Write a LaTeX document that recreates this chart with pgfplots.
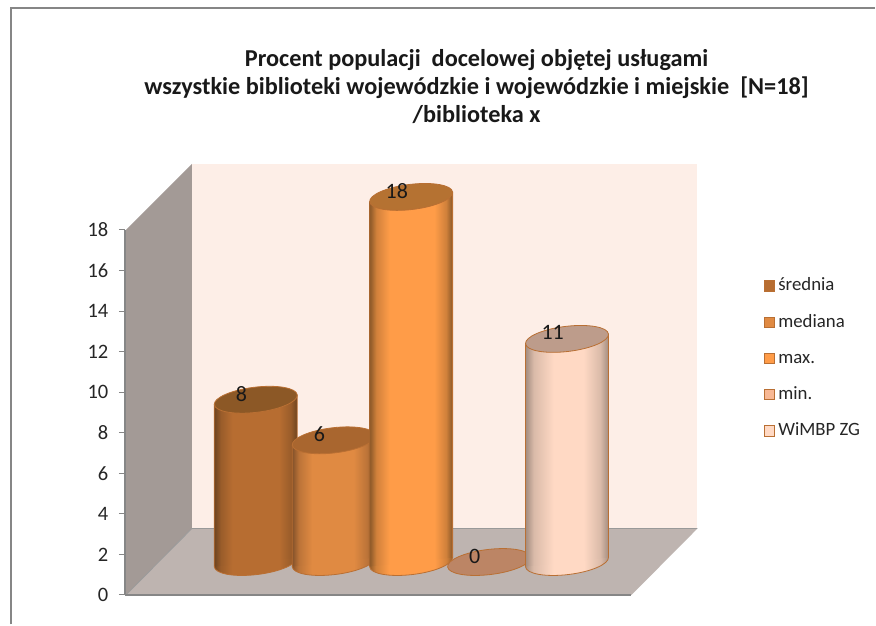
\documentclass[border=0pt]{standalone}
\usepackage{pgfplots}
\usepackage{fontspec}
\setmainfont{Carlito}
\pgfplotsset{compat=1.18}
\definecolor{frameC}{HTML}{868686}
\definecolor{wallB}{HTML}{FDEEE7}
\definecolor{wallL}{HTML}{A39A96}
\definecolor{floorC}{HTML}{BEB4B0}
\definecolor{edgeC}{HTML}{B96F33}
\definecolor{legMin}{HTML}{F8B894}
\definecolor{capA}{HTML}{8C5826}
\definecolor{capB}{HTML}{A9662F}
\definecolor{capC}{HTML}{B57232}
\definecolor{capD}{HTML}{BC8565}
\definecolor{capE}{HTML}{BD9C8B}
\definecolor{aD}{HTML}{6E4420}\definecolor{aM}{HTML}{B76D31}
\definecolor{bD}{HTML}{85522A}\definecolor{bM}{HTML}{E08A42}
\definecolor{cD}{HTML}{8A5828}\definecolor{cM}{HTML}{FF9C48}
\definecolor{eD}{HTML}{A38D80}\definecolor{eM}{HTML}{FFD9C4}
\colorlet{aX}{aM!60!aD}\colorlet{bX}{bM!60!bD}\colorlet{cX}{cM!60!cD}\colorlet{eX}{eM!60!eD}
\pgfdeclarehorizontalshading{cylA}{100bp}{color(0bp)=(aD);color(25bp)=(aD);color(29bp)=(aX);color(36bp)=(aM);color(64bp)=(aM);color(71bp)=(aX);color(75bp)=(aD);color(100bp)=(aD)}
\pgfdeclarehorizontalshading{cylB}{100bp}{color(0bp)=(bD);color(25bp)=(bD);color(29bp)=(bX);color(37bp)=(bM);color(62bp)=(bM);color(70bp)=(bX);color(75bp)=(bD);color(100bp)=(bD)}
\pgfdeclarehorizontalshading{cylC}{100bp}{color(0bp)=(cD);color(25bp)=(cD);color(29bp)=(cX);color(37bp)=(cM);color(64bp)=(cM);color(71bp)=(cX);color(75bp)=(cD);color(100bp)=(cD)}
\pgfdeclarehorizontalshading{cylE}{100bp}{color(0bp)=(eD);color(25bp)=(eD);color(30bp)=(eX);color(42bp)=(eM);color(60bp)=(eM);color(70bp)=(eX);color(75bp)=(eD);color(100bp)=(eD)}
\pgfdeclareplotmark{cylcap}{%
  \pgfpathellipse{\pgfpointorigin}{\pgfqpoint{41.5pt}{4.95pt}}{\pgfqpoint{-1.49pt}{12.51pt}}%
  \pgfusepathqfillstroke}
\newcommand\basemark[1]{\pgfdeclareplotmark{base#1}{%
  \pgfpathellipse{\pgfpointorigin}{\pgfqpoint{41.5pt}{4.95pt}}{\pgfqpoint{-1.49pt}{12.51pt}}%
  \pgfshadepath{cyl#1}{0}\pgfusepathqstroke}}
\basemark{A}\basemark{B}\basemark{C}\basemark{E}
\begin{document}
\begin{tikzpicture}
\begin{axis}[
  name=main, at={(0,0)}, anchor=south west,
  scale only axis, width=505pt, height=365.4pt,
  xmin=125, xmax=630, ymin=0, ymax=18,
  clip=false, axis on top,
  axis x line*=bottom, axis y line*=left,
  axis line style={frameC, line width=1.3pt, -},
  xtick=\empty,
  ytick={0,2,...,18},
  tick align=outside, major tick length=6pt,
  tick style={frameC, line width=1pt},
  /pgf/number format/assume math mode=true,
  tick label style={font=\fontsize{20.5}{22}\selectfont, text=black!85},
  yticklabel style={xshift=-7pt},
  title={Procent populacji~ docelowej objętej usługami\\wszystkie biblioteki wojewódzkie i wojewódzkie i miejskie~ [N=18]\\/biblioteka x},
  title style={at={(0.697,1.376)}, anchor=center, align=center, font=\fontsize{24.3}{28}\selectfont\bfseries, text=black!90},
  legend style={at={(1.2664,0.863)}, anchor=north west, draw=none, fill=none,
    font=\fontsize{18.8}{21}\selectfont, text=black!85, inner sep=0pt, outer sep=0pt,
    nodes={inner sep=0pt, text height=11pt, text depth=3pt}, row sep=22.2pt,
    /tikz/every odd column/.append style={column sep=3pt}},
  legend cell align=left,
]
% page and chart frame
\addplot[forget plot, fill=white, draw=none] coordinates {(0,-1.453)(0,29.335)(876,29.335)(876,-1.453)} -- cycle;
\addplot[forget plot, frameC, line width=1.5pt] coordinates {(11,-1.453)(11,28.94)(876,28.94)};
% walls and floor
\addplot[forget plot, fill=wallB, draw=none] coordinates {(192,3.276)(192,21.25)(698,21.25)(698,3.276)} -- cycle;
\addplot[forget plot, fill=wallL, draw=none] coordinates {(126,0)(126,18)(192,21.25)(192,3.276)} -- cycle;
\addplot[forget plot, fill=floorC, draw=none] coordinates {(126,0)(192,3.276)(698,3.276)(632,0)} -- cycle;
\addplot[forget plot, black!40, line width=0.8pt] coordinates {(126,0)(192,3.276)(698,3.276)};
\addplot[forget plot, frameC, line width=1.3pt] coordinates {(125,0)(632,0)};
% legend
\addlegendimage{legend image code/.code={\draw[fill=aM,draw=edgeC,line width=1pt] (0pt,-4.5pt) rectangle (10.5pt,6pt);}}
\addlegendentry{średnia}
\addlegendimage{legend image code/.code={\draw[fill=bM,draw=edgeC,line width=1pt] (0pt,-4.5pt) rectangle (10.5pt,6pt);}}
\addlegendentry{mediana}
\addlegendimage{legend image code/.code={\draw[fill=cM,draw=edgeC,line width=1pt] (0pt,-4.5pt) rectangle (10.5pt,6pt);}}
\addlegendentry{max.}
\addlegendimage{legend image code/.code={\draw[fill=legMin,draw=edgeC,line width=1pt] (0pt,-4.5pt) rectangle (10.5pt,6pt);}}
\addlegendentry{min.}
\addlegendimage{legend image code/.code={\draw[fill=eM,draw=edgeC,line width=1pt] (0pt,-4.5pt) rectangle (10.5pt,6pt);}}
\addlegendentry{WiMBP ZG}
\end{axis}
\begin{axis}[
  at={(0,0)}, anchor=south west,
  scale only axis, width=505pt, height=365.4pt,
  xmin=125, xmax=630, ymin=-1.626, ymax=16.374,
  clip=false, clip mode=individual, hide axis,
  /pgf/number format/assume math mode=true,
  every node near coord/.append style={anchor=center, xshift=-14.3pt, yshift=6pt, font=\fontsize{22}{24}\selectfont, text=black!90},
  nodes near coords,
  point meta=y,
]
% średnia = 8
\addplot[only marks, mark=baseA, nodes near coords=\empty, mark options={draw=edgeC, line width=0.8pt}] coordinates {(256,0)};
\addplot[shade, shading=cylA, draw=edgeC, line width=0.8pt, nodes near coords=\empty] coordinates {(214.5,-0.222)(214.5,7.778)(297.5,8.222)(297.5,0.222)};
\addplot[only marks, mark=cylcap, mark options={fill=capA, draw=edgeC, line width=0.8pt}] coordinates {(256,8)};
% mediana = 6
\addplot[only marks, mark=baseB, nodes near coords=\empty, mark options={draw=edgeC, line width=0.8pt}] coordinates {(334,0)};
\addplot[shade, shading=cylB, draw=edgeC, line width=0.8pt, nodes near coords=\empty] coordinates {(292.5,-0.222)(292.5,5.778)(375.5,6.222)(375.5,0.222)};
\addplot[only marks, mark=cylcap, mark options={fill=capB, draw=edgeC, line width=0.8pt}] coordinates {(334,6)};
% max = 18
\addplot[only marks, mark=baseC, nodes near coords=\empty, mark options={draw=edgeC, line width=0.8pt}] coordinates {(411.5,0)};
\addplot[shade, shading=cylC, draw=edgeC, line width=0.8pt, nodes near coords=\empty] coordinates {(370,-0.222)(370,17.778)(453,18.222)(453,0.222)};
\addplot[only marks, mark=cylcap, mark options={fill=capC, draw=edgeC, line width=0.8pt}] coordinates {(411.5,18)};
% min = 0
\addplot[only marks, mark=cylcap, mark options={fill=capD, draw=edgeC, line width=0.8pt}] coordinates {(489.5,0)};
% WiMBP ZG = 11
\addplot[only marks, mark=baseE, nodes near coords=\empty, mark options={draw=edgeC, line width=0.8pt}] coordinates {(567.5,0)};
\addplot[shade, shading=cylE, draw=edgeC, line width=0.8pt, nodes near coords=\empty] coordinates {(526,-0.222)(526,10.778)(609,11.222)(609,0.222)};
\addplot[only marks, mark=cylcap, mark options={fill=capE, draw=edgeC, line width=0.8pt}] coordinates {(567.5,11)};
\end{axis}
\end{tikzpicture}
\end{document}
